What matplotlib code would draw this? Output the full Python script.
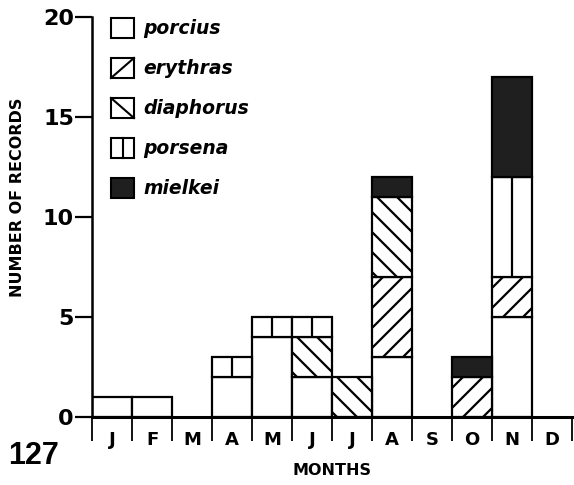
import matplotlib
matplotlib.use("Agg")
import matplotlib.pyplot as plt
import numpy as np
from matplotlib.patches import Rectangle
from matplotlib.lines import Line2D

# ---------------------------------------------------------------------------
# Data (records per month)
# ---------------------------------------------------------------------------
MONTHS = ["J", "F", "M", "A", "M", "J", "J", "A", "S", "O", "N", "D"]
SPECIES = ["porcius", "erythras", "diaphorus", "porsena", "mielkei"]

porcius   = [1, 1, 0, 2, 4, 2, 0, 3, 0, 0, 5, 0]
erythras  = [0, 0, 0, 0, 0, 0, 0, 4, 0, 2, 2, 0]
diaphorus = [0, 0, 0, 0, 0, 2, 2, 4, 0, 0, 0, 0]
porsena   = [0, 0, 0, 1, 1, 1, 0, 0, 0, 0, 5, 0]
mielkei   = [0, 0, 0, 0, 0, 0, 0, 1, 0, 1, 5, 0]

Y_TICKS = [0, 5, 10, 15, 20]

# fill style per species
STYLE = {
    "porcius":   dict(facecolor="white", hatch=None),
    "erythras":  dict(facecolor="white", hatch="//"),
    "diaphorus": dict(facecolor="white", hatch="\\\\"),
    "porsena":   dict(facecolor="white", hatch=None),   # centre line drawn below
    "mielkei":   dict(facecolor="#1f1f1f", hatch=None),
}

# hatch tile = 1 inch, so dpi sets the hatch spacing; sizes below are
# written for 100 dpi and scaled by S
DPI = 120
S = 100 / DPI
W_PX, H_PX = 574, 485
HEAVY = ["DejaVu Sans"]

plt.rcParams["font.family"] = ["Liberation Sans", "DejaVu Sans"]
plt.rcParams["font.weight"] = "bold"
plt.rcParams["hatch.linewidth"] = 1.6 * S
plt.rcParams["hatch.color"] = "black"

fig = plt.figure(figsize=(W_PX / DPI, H_PX / DPI), dpi=DPI)
ax = fig.add_axes([92 / W_PX, 68 / H_PX, 480 / W_PX, 400 / H_PX])

x = np.arange(len(MONTHS)) + 0.5
series = dict(porcius=porcius, erythras=erythras, diaphorus=diaphorus,
              porsena=porsena, mielkei=mielkei)

bottom = np.zeros(len(MONTHS))
for name in SPECIES:
    vals = np.array(series[name], dtype=float)
    keep = vals > 0
    st = STYLE[name]
    ax.bar(x[keep], vals[keep], bottom=bottom[keep], width=1.0,
           facecolor=st["facecolor"], hatch=st["hatch"],
           edgecolor="black", linewidth=1.6 * S, zorder=2)
    if name == "porsena":
        ax.vlines(x[keep], bottom[keep], bottom[keep] + vals[keep],
                  color="black", linewidth=1.6 * S, zorder=3)
    bottom += vals

ax.set_xlim(0, len(MONTHS))
ax.set_ylim(0, 20)

for side in ("top", "right"):
    ax.spines[side].set_visible(False)
ax.spines["left"].set_linewidth(1.8 * S)
ax.spines["bottom"].set_linewidth(2.2 * S)

ax.set_yticks(Y_TICKS)
ax.set_yticklabels([str(v) for v in Y_TICKS], fontsize=16 * S,
                   fontweight="bold", family=HEAVY)
ax.tick_params(axis="y", length=12 * S, width=1.6 * S, pad=1 * S)

ax.set_xticks(np.arange(len(MONTHS) + 1))
ax.set_xticklabels([])
ax.tick_params(axis="x", which="major", length=17 * S, width=1.3 * S,
               direction="out")
ax.set_xticks(x, minor=True)
ax.set_xticklabels(MONTHS, minor=True, fontsize=13 * S, fontweight="bold",
                   family=HEAVY)
ax.tick_params(axis="x", which="minor", length=0, pad=10 * S)

fig.text(18 / W_PX, 1 - 197 / H_PX, "NUMBER OF RECORDS", rotation=90,
         ha="center", va="center", fontsize=11.5 * S, fontweight="bold",
         family=HEAVY)
fig.text(332 / W_PX, 1 - 470 / H_PX, "MONTHS", ha="center", va="center",
         fontsize=11.5 * S, fontweight="bold", family=HEAVY)
fig.text(8 / W_PX, 1 - 456 / H_PX, "127", ha="left", va="center",
         fontsize=22 * S, fontweight="bold")

# hand-drawn style legend (one stroke per box, like the original)
box_x, box_w, box_h = 111, 23, 20
row_y = [28, 68, 108, 148, 188]
to_fig = fig.transFigure
for name, yc in zip(SPECIES, row_y):
    x0 = box_x / W_PX
    y0 = 1 - (yc + box_h / 2) / H_PX
    w, h = box_w / W_PX, box_h / H_PX
    fc = STYLE[name]["facecolor"]
    fig.patches.append(Rectangle((x0, y0), w, h, transform=to_fig,
                                 facecolor=fc, edgecolor="black",
                                 linewidth=1.5 * S))
    if name == "erythras":
        fig.lines.append(Line2D([x0, x0 + w], [y0, y0 + h], transform=to_fig,
                                color="black", linewidth=1.5 * S))
    elif name == "diaphorus":
        fig.lines.append(Line2D([x0, x0 + w], [y0 + h, y0], transform=to_fig,
                                color="black", linewidth=1.5 * S))
    elif name == "porsena":
        fig.lines.append(Line2D([x0 + w / 2] * 2, [y0, y0 + h],
                                transform=to_fig, color="black",
                                linewidth=1.5 * S))
    fig.text(143 / W_PX, 1 - yc / H_PX, name, ha="left", va="center",
             fontsize=13.5 * S, fontweight="bold", fontstyle="italic",
             family=HEAVY)

fig.savefig("out.png", dpi=DPI)
